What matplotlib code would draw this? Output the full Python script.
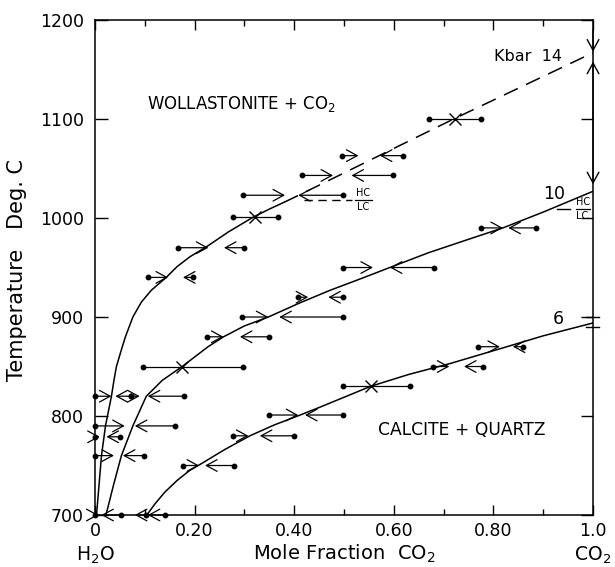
import matplotlib
matplotlib.use("Agg")
import matplotlib.pyplot as plt
from matplotlib.patches import FancyArrowPatch

plt.rcParams['font.family'] = ['DejaVu Sans']
plt.rcParams['mathtext.fontset'] = 'dejavusans'

# ---------------- data ----------------
x_ticks = [0, 0.2, 0.4, 0.6, 0.8, 1.0]
x_tick_labels = ['0', '0.20', '0.40', '0.60', '0.80', '1.0']
y_ticks = [700, 800, 900, 1000, 1100, 1200]

# 14 kbar curve (solid part and dashed part)
c14_x = [0.003, 0.008, 0.013, 0.021, 0.033, 0.038, 0.043, 0.053, 0.061, 0.076, 0.093, 0.113,
         0.143, 0.165, 0.191, 0.224, 0.268, 0.318, 0.35, 0.38]
c14_T = [700, 730, 760, 790, 820, 836, 850, 867, 880, 900, 915, 927,
         940, 951, 961, 971, 986, 1001, 1009, 1016]
c14d_x = [0.38, 0.405, 0.72, 1.0]
c14d_T = [1016, 1022, 1100, 1167]

# 10 kbar curve
c10_x = [0.022, 0.037, 0.053, 0.076, 0.103, 0.135, 0.155, 0.175, 0.227, 0.258, 0.30, 0.348, 0.41, 0.472, 0.53, 0.592, 0.67, 0.753, 0.819, 0.9, 1.0]
c10_T = [700, 730, 760, 790, 820, 836, 843, 850, 870, 880, 891, 900, 914, 927, 938, 950, 965, 979, 990, 1006, 1027]

# 6 kbar curve
c6_x = [0.104, 0.12, 0.14, 0.165, 0.19, 0.214, 0.26, 0.311, 0.36, 0.412, 0.452, 0.5535, 0.63, 0.713, 0.827, 0.9, 1.0]
c6_T = [700, 711, 723, 735, 745, 752, 766, 780, 791, 801, 809, 830, 842, 853, 870, 881, 894]

# experiments: dot (start) -> arrow head (direction of reaction)
arr_T = [1063, 1063, 1043, 1043, 1023, 1023, 970, 970, 940, 940,
         990, 990, 950, 950, 920, 920, 900, 900, 880, 880,
         820, 820, 820, 820, 790, 790, 779, 779, 760, 760,
         700, 700, 700, 700,
         870, 870, 850, 850, 801, 801, 780, 780, 750, 750]
arr_dot = [0.495, 0.619, 0.415, 0.598, 0.298, 0.497, 0.167, 0.300, 0.106, 0.197,
           0.776, 0.886, 0.497, 0.681, 0.408, 0.497, 0.296, 0.497, 0.224, 0.349,
           0.0, 0.073, 0.073, 0.179, 0.0, 0.160, 0.0, 0.0495, 0.0, 0.098,
           0.0, 0.053, 0.141, 0.103,
           0.768, 0.860, 0.679, 0.780, 0.350, 0.4986, 0.2765, 0.3996, 0.177, 0.280]
arr_head = [0.529, 0.572, 0.478, 0.515, 0.3815, 0.408, 0.2276, 0.259, 0.1466, 0.1767,
            0.819, 0.830, 0.558, 0.592, 0.428, 0.4685, 0.348, 0.370, 0.258, 0.291,
            0.033, 0.041, 0.0897, 0.106, 0.0596, 0.080, 0.0094, 0.023, 0.038, 0.056,
            0.007, 0.0127, 0.106, 0.080,
            0.813, 0.839, 0.7115, 0.741, 0.408, 0.4217, 0.308, 0.331, 0.209, 0.221]

# reversed brackets (both ends dotted, X at the crossing)
rev_T = [1100, 1001, 850, 830]
rev_lo = [0.671, 0.2765, 0.0964, 0.497]
rev_hi = [0.776, 0.367, 0.298, 0.6325]
rev_x = [0.723, 0.321, 0.175, 0.5535]

# ---------------- figure ----------------
fig = plt.figure(figsize=(6.15, 5.67), dpi=100)
ax = fig.add_axes([0.1545, 0.0917, 0.8098, 0.873])
ax.set_xlim(0, 1.0)
ax.set_ylim(700, 1200)

lw_curve = 1.1
ax.plot(c14_x, c14_T, color='black', lw=lw_curve)
ax.plot(c14d_x, c14d_T, color='black', lw=lw_curve, dashes=(10, 6))
ax.plot(c10_x, c10_T, color='black', lw=lw_curve)
ax.plot(c6_x, c6_T, color='black', lw=lw_curve)

astyle = '->,head_length=0.55,head_width=0.3'
for T, xd, xh in zip(arr_T, arr_dot, arr_head):
    a = FancyArrowPatch((xd, T), (xh, T), arrowstyle=astyle,
                        mutation_scale=14, lw=0.9, color='black', shrinkA=0, shrinkB=0,
                        clip_on=False)
    ax.add_patch(a)
    ax.plot([xd], [T], 'o', color='black', ms=3.2, clip_on=False)

for T, lo, hi, xc in zip(rev_T, rev_lo, rev_hi, rev_x):
    ax.plot([lo, hi], [T, T], color='black', lw=0.9)
    ax.plot([lo, hi], [T, T], 'o', color='black', ms=3.2)
    ax.plot([xc], [T], marker='x', color='black', ms=9, mew=1.0)

# end members at pure CO2
for p0, p1 in [((1.0, 1190), (1.0, 1168)), ((1.0, 1100), (1.0, 1158)), ((1.0, 1100), (1.0, 1034))]:
    ax.add_patch(FancyArrowPatch(p0, p1, arrowstyle=astyle,
                                 mutation_scale=14, lw=1.0, color='black', shrinkA=0, shrinkB=0,
                                 clip_on=False))
ax.plot([0.985, 1.012], [900, 900], color='black', lw=1.0, clip_on=False)
ax.plot([0.985, 1.012], [890, 890], color='black', lw=1.0, clip_on=False)

# HC / LC marks
ax.plot([0.42, 0.516], [1018, 1018], color='black', lw=1.0, dashes=(6, 4))
ax.plot([0.522, 0.556], [1018, 1018], color='black', lw=0.9)
ax.text(0.539, 1020, 'HC', fontsize=7, ha='center', va='bottom')
ax.text(0.539, 1016, 'LC', fontsize=7, ha='center', va='top')
ax.plot([0.927, 0.954], [1009, 1009], color='black', lw=1.0)
ax.plot([0.966, 0.994], [1009, 1009], color='black', lw=0.9)
ax.text(0.979, 1011, 'HC', fontsize=7, ha='center', va='bottom')
ax.text(0.979, 1007, 'LC', fontsize=7, ha='center', va='top')

# labels
ax.text(0.104, 1115, 'WOLLASTONITE + CO$_2$', fontsize=12, ha='left', va='center')
ax.text(0.736, 786, 'CALCITE + QUARTZ', fontsize=12.3, ha='center', va='center')
ax.text(0.938, 1163, 'Kbar  14', fontsize=11.5, ha='right', va='center')
ax.text(0.922, 1024, '10', fontsize=12.5, ha='center', va='center')
ax.text(0.93, 898, '6', fontsize=12.5, ha='center', va='center')

# axes styling
for s in ax.spines.values():
    s.set_linewidth(1.1)
ax.set_xticks(x_ticks)
ax.set_xticklabels(x_tick_labels)
ax.set_xticks([0.1, 0.3, 0.5, 0.7, 0.9], minor=True)
ax.set_yticks(y_ticks)
ax.tick_params(axis='x', which='major', direction='in', length=7, width=1.0, top=True,
               labelsize=12.5, pad=5)
ax.tick_params(axis='x', which='minor', direction='in', length=4, width=1.0, top=True)
ax.tick_params(axis='y', which='major', direction='in', length=9, width=1.0, right=True,
               labelsize=12.5, pad=8)

ax.set_xlabel('Mole Fraction  CO$_2$', fontsize=14, labelpad=2)
fig.text(17 / 615, 1 - 270 / 567, 'Temperature   Deg. C', rotation=90, fontsize=15,
         ha='center', va='center')
ax.text(0.0, -0.082, 'H$_2$O', transform=ax.transAxes, fontsize=13.5, ha='center', va='center')
ax.text(1.0, -0.082, 'CO$_2$', transform=ax.transAxes, fontsize=13.5, ha='center', va='center')

fig.savefig('out.png', dpi=100)
